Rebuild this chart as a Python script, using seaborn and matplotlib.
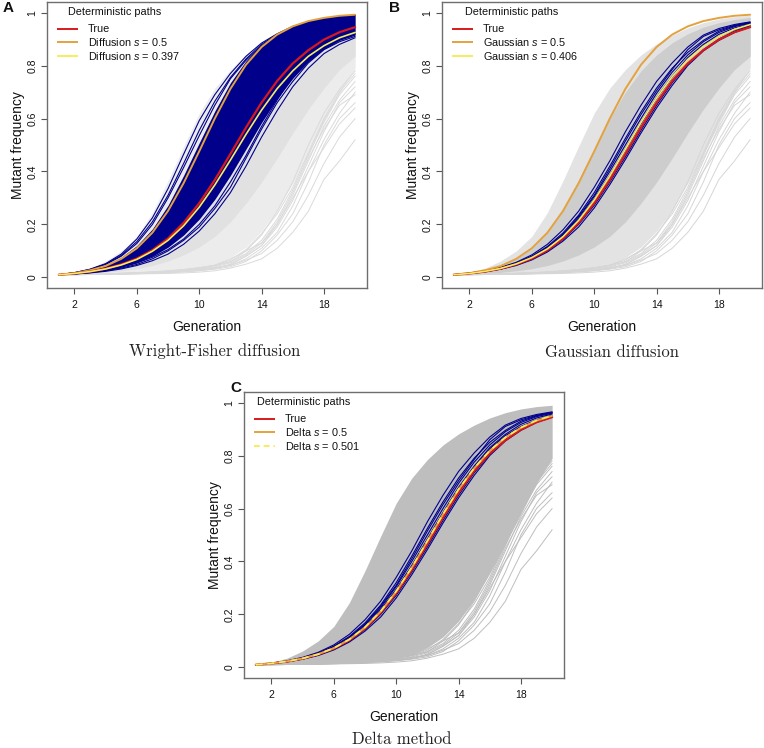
import numpy as np
import pandas as pd
import matplotlib
matplotlib.use("Agg")
import matplotlib.pyplot as plt
import seaborn as sns

# ---------------- data ----------------
generations = list(range(1, 21))
xticks = [2, 6, 10, 14, 18]
yticks = [0, 0.2, 0.4, 0.6, 0.8, 1]
ytick_labels = ["0", "0.2", "0.4", "0.6", "0.8", "1"]

true_path = [0.010, 0.015, 0.022, 0.033, 0.049, 0.071, 0.103, 0.147, 0.206, 0.280,
             0.368, 0.466, 0.566, 0.660, 0.742, 0.808, 0.858, 0.898, 0.926, 0.945]
diffusion_s050 = [0.010, 0.016, 0.027, 0.043, 0.070, 0.110, 0.169, 0.251, 0.356, 0.476,
                  0.600, 0.712, 0.803, 0.870, 0.917, 0.948, 0.968, 0.980, 0.988, 0.992]
diffusion_s0397 = [0.010, 0.015, 0.022, 0.032, 0.047, 0.068, 0.099, 0.140, 0.195, 0.265,
                   0.349, 0.443, 0.540, 0.632, 0.713, 0.780, 0.835, 0.875, 0.905, 0.925]
gaussian_s050 = diffusion_s050
gaussian_s0406 = [0.010, 0.015, 0.023, 0.034, 0.051, 0.075, 0.108, 0.154, 0.215, 0.292,
                  0.383, 0.484, 0.585, 0.678, 0.758, 0.823, 0.873, 0.910, 0.937, 0.955]
delta_s050 = [0.010, 0.015, 0.023, 0.034, 0.050, 0.073, 0.106, 0.151, 0.211, 0.287,
              0.377, 0.477, 0.578, 0.672, 0.752, 0.818, 0.868, 0.905, 0.932, 0.950]
delta_s0501 = [0.010, 0.015, 0.023, 0.034, 0.050, 0.073, 0.106, 0.152, 0.212, 0.288,
               0.378, 0.478, 0.579, 0.673, 0.753, 0.819, 0.869, 0.906, 0.933, 0.951]

# envelope of the bundle of simulated (grey) paths
gray_top = [0.010, 0.019, 0.035, 0.062, 0.100, 0.155, 0.245, 0.365, 0.495, 0.620,
            0.715, 0.785, 0.840, 0.882, 0.915, 0.942, 0.962, 0.976, 0.985, 0.990]
gray_mid_top = [0.010, 0.016, 0.027, 0.044, 0.070, 0.110, 0.170, 0.255, 0.365, 0.485,
                0.600, 0.700, 0.780, 0.840, 0.886, 0.920, 0.945, 0.962, 0.974, 0.982]
gray_mid_bot = [0.010, 0.012, 0.015, 0.019, 0.025, 0.033, 0.045, 0.062, 0.085, 0.115,
                0.155, 0.210, 0.280, 0.360, 0.450, 0.545, 0.635, 0.715, 0.785, 0.835]
gray_bot = [0.010, 0.011, 0.012, 0.013, 0.014, 0.016, 0.018, 0.021, 0.026, 0.034,
            0.048, 0.075, 0.115, 0.175, 0.255, 0.355, 0.465, 0.580, 0.695, 0.790]

# individual slow grey paths below the bundle
gray_low_1 = [0.010, 0.010, 0.011, 0.011, 0.012, 0.013, 0.014, 0.015, 0.017, 0.020,
              0.025, 0.035, 0.050, 0.070, 0.110, 0.170, 0.250, 0.370, 0.440, 0.520]
gray_low_2 = [0.010, 0.010, 0.011, 0.012, 0.013, 0.014, 0.016, 0.018, 0.021, 0.025,
              0.031, 0.040, 0.060, 0.100, 0.160, 0.240, 0.360, 0.500, 0.600, 0.660]
gray_low_3 = [0.010, 0.011, 0.011, 0.012, 0.013, 0.015, 0.017, 0.019, 0.022, 0.026,
              0.033, 0.050, 0.080, 0.120, 0.190, 0.290, 0.420, 0.550, 0.660, 0.720]
gray_low_4 = [0.010, 0.011, 0.012, 0.013, 0.014, 0.015, 0.017, 0.020, 0.024, 0.030,
              0.038, 0.045, 0.070, 0.110, 0.170, 0.270, 0.400, 0.520, 0.620, 0.700]
gray_low_5 = [0.010, 0.011, 0.012, 0.013, 0.015, 0.017, 0.019, 0.022, 0.027, 0.034,
              0.044, 0.060, 0.090, 0.140, 0.220, 0.330, 0.460, 0.590, 0.690, 0.760]
gray_low_6 = [0.010, 0.011, 0.012, 0.014, 0.016, 0.018, 0.021, 0.025, 0.030, 0.037,
              0.045, 0.058, 0.100, 0.160, 0.250, 0.360, 0.500, 0.620, 0.710, 0.780]
gray_low_7 = [0.010, 0.010, 0.011, 0.012, 0.013, 0.015, 0.017, 0.020, 0.024, 0.029,
              0.036, 0.048, 0.080, 0.120, 0.200, 0.310, 0.440, 0.570, 0.670, 0.740]
gray_low_8 = [0.010, 0.011, 0.012, 0.013, 0.015, 0.017, 0.020, 0.024, 0.029, 0.036,
              0.046, 0.070, 0.100, 0.130, 0.200, 0.300, 0.400, 0.490, 0.580, 0.640]
gray_low_9 = [0.010, 0.011, 0.012, 0.013, 0.014, 0.016, 0.018, 0.021, 0.025, 0.031,
              0.040, 0.055, 0.085, 0.130, 0.210, 0.320, 0.450, 0.560, 0.650, 0.690]
gray_low_10 = [0.010, 0.011, 0.012, 0.013, 0.015, 0.017, 0.020, 0.023, 0.028, 0.035,
               0.046, 0.065, 0.105, 0.165, 0.240, 0.340, 0.470, 0.600, 0.700, 0.770]
gray_low_11 = [0.010, 0.010, 0.011, 0.012, 0.013, 0.014, 0.016, 0.019, 0.022, 0.027,
               0.034, 0.045, 0.065, 0.090, 0.140, 0.210, 0.310, 0.430, 0.530, 0.600]

# Wright-Fisher panel: dense blue bundle and stray blue paths
wf_blue_top = [0.010, 0.017, 0.029, 0.047, 0.076, 0.120, 0.183, 0.272, 0.385, 0.508,
               0.628, 0.735, 0.818, 0.880, 0.923, 0.952, 0.970, 0.981, 0.987, 0.991]
wf_blue_bot = [0.010, 0.014, 0.019, 0.027, 0.039, 0.056, 0.080, 0.114, 0.160, 0.220,
               0.295, 0.385, 0.485, 0.585, 0.675, 0.752, 0.815, 0.862, 0.895, 0.915]
wf_blue_1 = [0.010, 0.018, 0.031, 0.052, 0.088, 0.145, 0.225, 0.335, 0.465, 0.592,
             0.690, 0.770, 0.835, 0.885, 0.920, 0.948, 0.965, 0.977, 0.985, 0.990]
wf_blue_2 = [0.010, 0.018, 0.030, 0.050, 0.083, 0.135, 0.210, 0.310, 0.430, 0.555,
             0.665, 0.755, 0.825, 0.880, 0.918, 0.945, 0.963, 0.976, 0.984, 0.989]
wf_blue_3 = [0.010, 0.017, 0.029, 0.049, 0.080, 0.128, 0.200, 0.300, 0.415, 0.535,
             0.650, 0.750, 0.820, 0.875, 0.915, 0.943, 0.962, 0.975, 0.984, 0.989]
wf_blue_4 = [0.010, 0.013, 0.017, 0.023, 0.032, 0.045, 0.063, 0.088, 0.125, 0.175,
             0.240, 0.320, 0.420, 0.530, 0.630, 0.720, 0.790, 0.845, 0.880, 0.905]
wf_blue_5 = [0.010, 0.013, 0.018, 0.025, 0.035, 0.049, 0.070, 0.100, 0.140, 0.190,
             0.260, 0.340, 0.450, 0.560, 0.660, 0.740, 0.810, 0.860, 0.890, 0.910]
wf_blue_6 = [0.010, 0.0135, 0.019, 0.027, 0.038, 0.054, 0.076, 0.105, 0.145, 0.200,
             0.270, 0.360, 0.460, 0.570, 0.670, 0.760, 0.830, 0.875, 0.900, 0.920]

# Gaussian / Delta panels: a few blue paths close to the true path
near_blue_1 = [0.010, 0.016, 0.025, 0.038, 0.057, 0.085, 0.125, 0.180, 0.250, 0.340,
               0.440, 0.550, 0.650, 0.740, 0.810, 0.870, 0.915, 0.940, 0.955, 0.965]
near_blue_2 = [0.010, 0.0155, 0.024, 0.036, 0.054, 0.080, 0.117, 0.168, 0.235, 0.320,
               0.420, 0.525, 0.625, 0.715, 0.790, 0.850, 0.895, 0.930, 0.950, 0.962]
near_blue_3 = [0.010, 0.015, 0.023, 0.035, 0.052, 0.077, 0.112, 0.160, 0.225, 0.305,
               0.400, 0.500, 0.600, 0.695, 0.775, 0.840, 0.890, 0.925, 0.947, 0.960]
near_blue_4 = [0.010, 0.0152, 0.0228, 0.034, 0.050, 0.074, 0.108, 0.155, 0.218, 0.295,
               0.385, 0.485, 0.585, 0.680, 0.760, 0.830, 0.880, 0.918, 0.942, 0.957]
near_blue_5 = [0.010, 0.0148, 0.022, 0.032, 0.047, 0.069, 0.100, 0.143, 0.200, 0.272,
               0.360, 0.455, 0.555, 0.650, 0.735, 0.805, 0.860, 0.900, 0.930, 0.950]
near_blue_6 = [0.010, 0.0145, 0.021, 0.031, 0.045, 0.066, 0.096, 0.137, 0.190, 0.262,
               0.350, 0.445, 0.545, 0.640, 0.725, 0.800, 0.855, 0.895, 0.925, 0.945]
near_blue_7 = [0.010, 0.0155, 0.0235, 0.0355, 0.053, 0.079, 0.114, 0.163, 0.230, 0.310,
               0.410, 0.515, 0.615, 0.705, 0.785, 0.860, 0.910, 0.935, 0.952, 0.963]
near_blue_8 = [0.010, 0.0150, 0.0225, 0.0335, 0.049, 0.072, 0.105, 0.150, 0.212, 0.290,
               0.380, 0.480, 0.580, 0.675, 0.755, 0.825, 0.875, 0.910, 0.935, 0.952]

gray_low_paths = [gray_low_1, gray_low_2, gray_low_3, gray_low_4, gray_low_5, gray_low_6,
                  gray_low_7, gray_low_8, gray_low_9, gray_low_10, gray_low_11]
wf_blue_paths = [wf_blue_1, wf_blue_2, wf_blue_3, wf_blue_4, wf_blue_5, wf_blue_6]
near_blue_paths = [near_blue_1, near_blue_2, near_blue_3, near_blue_4,
                   near_blue_5, near_blue_6, near_blue_7, near_blue_8]

# ---------------- style ----------------
sns.set_theme(style="white")
plt.rcParams["font.family"] = ["Liberation Sans", "DejaVu Sans"]
plt.rcParams["mathtext.fontset"] = "custom"
plt.rcParams["mathtext.it"] = "Liberation Sans:italic"
plt.rcParams["mathtext.rm"] = "Liberation Sans"

RED = "#D7191C"
ORANGE = "#E3A23F"
YELLOW = "#F4EE5C"
NAVY = "#00008B"

W, H = 764, 748
fig = plt.figure(figsize=(W / 100, H / 100), dpi=100)


def add_axes(left, top, w=320, h=286):
    return fig.add_axes([left / W, 1 - (top + h) / H, w / W, h / H])


def long_df(paths):
    rows = []
    for i, vals in enumerate(paths):
        for g, v in zip(generations, vals):
            rows.append((i, g, v))
    return pd.DataFrame(rows, columns=["path", "generation", "freq"])


def draw_paths(ax, paths, color, lw, **kw):
    sns.lineplot(data=long_df(paths), x="generation", y="freq", units="path",
                 estimator=None, color=color, lw=lw, ax=ax, legend=False, **kw)


def style_axes(ax):
    ax.set_xlim(0.24, 20.76)
    ax.set_ylim(-0.04, 1.04)
    ax.set_xticks(xticks)
    ax.set_xticklabels([str(t) for t in xticks])
    ax.set_yticks(yticks)
    ax.set_yticklabels(ytick_labels, rotation=90, va="center")
    ax.tick_params(axis="both", length=4, width=0.8, color="#555555",
                   labelsize=7.5, direction="out", bottom=True, left=True,
                   labelcolor="#111111")
    ax.tick_params(axis="x", pad=4.5)
    ax.tick_params(axis="y", pad=3)
    for s in ax.spines.values():
        s.set_color("#6e6e6e")
        s.set_linewidth(1.0)
    ax.set_xlabel("Generation", fontsize=10, color="#111111")
    ax.xaxis.set_label_coords(0.5, -39 / 286)
    ax.xaxis.label.set_va("center")
    ax.set_ylabel("Mutant frequency", fontsize=10, color="#111111")
    ax.yaxis.set_label_coords(-29 / 320, 0.5)
    ax.yaxis.label.set_va("center")


def draw_legend(ax, title_x, labels, styles):
    tr = ax.transAxes
    ax.text(title_x / 320, 1 - 10 / 286, "Deterministic paths", transform=tr,
            fontsize=7.8, ha="left", va="center", color="#111111")
    for i, (lab, (c, ls)) in enumerate(zip(labels, styles)):
        y = 1 - (27 + 13.3 * i) / 286
        ax.plot([10 / 320, 31 / 320], [y, y], transform=tr, color=c, ls=ls,
                lw=1.4, solid_capstyle="butt")
        ax.text(41 / 320, y, lab, transform=tr, fontsize=7.8, ha="left",
                va="center", color="#111111")


def draw_gray(ax, outer, mid, inner, line_c, solid=False):
    if solid:
        ax.fill_between(generations, gray_bot, gray_top, color=inner, lw=0)
    else:
        ax.fill_between(generations, gray_bot, gray_top, color=outer, lw=0)
        ax.fill_between(generations, gray_mid_bot, gray_mid_top, color=mid, lw=0)
    draw_paths(ax, gray_low_paths, line_c, 0.7)


# ---------------- Panel A ----------------
axA = add_axes(47, 2)
draw_gray(axA, "#ececec", "#e1e1e1", None, "#dadada")
axA.fill_between(generations, wf_blue_bot, wf_blue_top, color=NAVY, lw=0)
draw_paths(axA, wf_blue_paths, NAVY, 0.8)
axA.plot(generations, diffusion_s050, color=ORANGE, lw=1.4)
axA.plot(generations, true_path, color=RED, lw=1.6)
axA.plot(generations, diffusion_s0397, color=YELLOW, lw=1.2)
style_axes(axA)
draw_legend(axA, 21, ["True", "Diffusion $s$ = 0.5", "Diffusion $s$ = 0.397"],
            [(RED, "-"), (ORANGE, "-"), (YELLOW, "-")])

# ---------------- Panel B ----------------
axB = add_axes(442, 2)
draw_gray(axB, "#e3e3e3", "#cdcdcd", None, "#d6d6d6")
draw_paths(axB, near_blue_paths, NAVY, 0.8)
axB.plot(generations, gaussian_s050, color=ORANGE, lw=1.4)
axB.plot(generations, true_path, color=RED, lw=1.6)
axB.plot(generations, gaussian_s0406, color=YELLOW, lw=1.2)
style_axes(axB)
draw_legend(axB, 23, ["True", "Gaussian $s$ = 0.5", "Gaussian $s$ = 0.406"],
            [(RED, "-"), (ORANGE, "-"), (YELLOW, "-")])

# ---------------- Panel C ----------------
axC = add_axes(244, 392)
draw_gray(axC, None, None, "#bebebe", "#bebebe", solid=True)
draw_paths(axC, near_blue_paths, NAVY, 0.8)
axC.plot(generations, true_path, color=RED, lw=1.6)
axC.plot(generations, delta_s050, color=ORANGE, lw=1.4)
axC.plot(generations, delta_s0501, color=YELLOW, lw=1.2, ls=(0, (4, 3)))
style_axes(axC)
draw_legend(axC, 13, ["True", "Delta $s$ = 0.5", "Delta $s$ = 0.501"],
            [(RED, "-"), (ORANGE, "-"), (YELLOW, (0, (3, 2)))])

# ---------------- panel letters and captions ----------------
for letter, (x, y) in {"A": (8, 8), "B": (395, 8), "C": (236, 388)}.items():
    fig.text(x / W, 1 - y / H, letter, fontsize=11, weight="bold",
             ha="center", va="center", color="#111111")

for caption, (x, y) in {"Wright-Fisher diffusion": (215, 351),
                        "Gaussian diffusion": (612, 352),
                        "Delta method": (402, 739)}.items():
    fig.text(x / W, 1 - y / H, caption, family="cmr10", fontsize=12,
             ha="center", va="center", color="#222222")

fig.savefig("out.png", dpi=100)
